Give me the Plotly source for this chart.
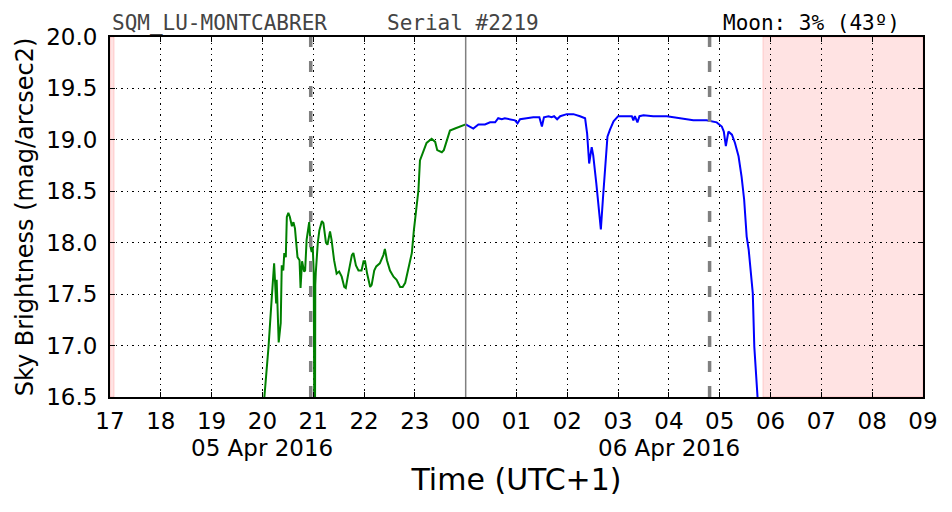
import plotly.graph_objects as go

# Time in hours since 05 Apr 2016 00:00 (UTC+1); values in mag/arcsec2
green_t = [20.03, 20.12, 20.18, 20.23, 20.27, 20.28, 20.32, 20.36, 20.38, 20.41, 20.43, 20.46,
           20.48, 20.51, 20.54, 20.58, 20.61, 20.64, 20.69, 20.73, 20.75, 20.78, 20.82, 20.84,
           20.87, 20.92, 20.95, 20.97, 20.99, 21.01, 21.02, 21.035, 21.04, 21.05, 21.09, 21.12,
           21.17, 21.20, 21.25, 21.28, 21.33, 21.36, 21.41, 21.46, 21.51, 21.56, 21.61, 21.64,
           21.69, 21.76, 21.79, 21.84, 21.89, 21.95, 21.99, 22.02, 22.06, 22.12, 22.15, 22.20,
           22.24, 22.31, 22.38, 22.41, 22.45, 22.51, 22.58, 22.64, 22.71, 22.76, 22.81, 22.87,
           22.94, 22.98, 23.04, 23.07, 23.10, 23.17, 23.23, 23.33, 23.40, 23.44, 23.53, 23.57,
           23.63, 23.69, 23.79, 23.89, 24.00]
green_v = [16.45, 16.99, 17.44, 17.80, 17.41, 17.64, 17.03, 17.22, 17.78, 17.73, 17.90, 17.86,
           18.25, 18.29, 18.25, 18.16, 18.20, 18.14, 17.86, 17.83, 17.56, 17.82, 17.72, 17.73,
           18.03, 18.20, 17.95, 17.91, 17.96, 17.70, 16.30, 16.30, 17.59, 17.71, 18.00, 18.12,
           18.21, 18.19, 18.00, 17.98, 18.11, 18.03, 17.83, 17.70, 17.72, 17.67, 17.57, 17.56,
           17.70, 17.88, 17.90, 17.78, 17.73, 17.73, 17.82, 17.82, 17.70, 17.57, 17.59, 17.73,
           17.77, 17.80, 17.88, 17.94, 17.83, 17.73, 17.67, 17.64, 17.57, 17.57, 17.61, 17.73,
           17.90, 18.12, 18.42, 18.51, 18.80, 18.90, 18.97, 19.01, 18.98, 18.90, 18.88, 18.90,
           19.00, 19.09, 19.11, 19.13, 19.15]

blue_t = [24.00, 24.09, 24.15, 24.25, 24.38, 24.48, 24.58, 24.64, 24.71, 24.77, 24.87, 24.97,
          25.02, 25.07, 25.20, 25.33, 25.45, 25.50, 25.54, 25.63, 25.69, 25.74, 25.80, 25.86,
          25.99, 26.12, 26.25, 26.35, 26.39, 26.43, 26.48, 26.51, 26.57, 26.61, 26.66, 26.70,
          26.74, 26.79, 26.84, 26.91, 27.00, 27.14, 27.27, 27.30, 27.33, 27.38, 27.42, 27.50,
          27.69, 27.96, 28.22, 28.48, 28.74, 28.94, 29.04, 29.08, 29.12, 29.17, 29.24, 29.30,
          29.37, 29.43, 29.48, 29.53, 29.57, 29.65, 29.68, 29.73, 29.75]
blue_v = [19.15, 19.13, 19.11, 19.15, 19.15, 19.17, 19.17, 19.21, 19.20, 19.21, 19.20, 19.19,
          19.16, 19.20, 19.21, 19.22, 19.22, 19.13, 19.22, 19.23, 19.22, 19.23, 19.20, 19.23,
          19.25, 19.25, 19.23, 19.21, 19.06, 18.77, 18.93, 18.85, 18.58, 18.38, 18.13, 18.42,
          18.74, 19.03, 19.10, 19.18, 19.23, 19.23, 19.23, 19.19, 19.23, 19.17, 19.23, 19.24,
          19.23, 19.23, 19.21, 19.19, 19.19, 19.17, 19.13, 19.08, 18.94, 19.08, 19.05, 18.97,
          18.84, 18.64, 18.42, 18.06, 17.93, 17.51, 16.99, 16.52, 16.45]

tick_vals = list(range(17, 34))
tick_text = ["17", "18", "19", "20", "21", "22", "23", "00", "01", "02", "03", "04",
             "05", "06", "07", "08", "09"]
date_labels = [(20, "05 Apr 2016"), (28, "06 Apr 2016")]
twilight_lines = [20.95, 28.80]
midnight = 24.0
sun_spans = [(17.0, 17.08), (29.85, 33.0)]

fig = go.Figure()
fig.add_trace(go.Scatter(x=green_t, y=green_v, mode="lines",
                         line=dict(color="#008000", width=2), hoverinfo="skip"))
fig.add_trace(go.Scatter(x=blue_t, y=blue_v, mode="lines",
                         line=dict(color="#0000ff", width=2), hoverinfo="skip"))

shapes = []
for a, b in sun_spans:
    shapes.append(dict(type="rect", xref="x", yref="paper", x0=a, x1=b, y0=0, y1=1,
                       fillcolor="rgba(255,0,0,0.11)", line=dict(color="rgba(255,0,0,0.15)", width=1),
                       layer="below"))
for t in twilight_lines:
    shapes.append(dict(type="line", xref="x", yref="paper", x0=t, x1=t, y0=0, y1=1,
                       line=dict(color="#808080", width=3.5, dash="11px,14px")))
shapes.append(dict(type="line", xref="x", yref="paper", x0=midnight, x1=midnight, y0=0, y1=1,
                   line=dict(color="#808080", width=1.5)))

annotations = []
for t, txt in date_labels:
    annotations.append(dict(x=t, y=0, xref="x", yref="paper", yshift=-51, text=txt, showarrow=False,
                            xanchor="center", yanchor="middle",
                            font=dict(family="DejaVu Sans", size=23, color="black")))
annotations += [
    dict(x=0.0, y=1.0, xref="paper", yref="paper", text="SQM_LU-MONTCABRER", showarrow=False,
         xanchor="left", yanchor="bottom", yshift=0,
         font=dict(family="DejaVu Sans Mono", size=21, color="#444444")),
    dict(x=0.338, y=1.0, xref="paper", yref="paper", text="Serial #2219", showarrow=False,
         xanchor="left", yanchor="bottom", yshift=0,
         font=dict(family="DejaVu Sans Mono", size=21, color="#444444")),
    dict(x=0.752, y=1.0, xref="paper", yref="paper", text="Moon: 3% (43º)", showarrow=False,
         xanchor="left", yanchor="bottom", yshift=0,
         font=dict(family="DejaVu Sans Mono", size=21, color="black")),
]

fig.update_layout(
    width=952, height=512,
    margin=dict(l=110, r=29, t=37, b=115),
    paper_bgcolor="white", plot_bgcolor="white",
    showlegend=False,
    shapes=shapes, annotations=annotations,
    font=dict(family="DejaVu Sans", color="black"),
    xaxis=dict(range=[17, 33], tickvals=tick_vals, ticktext=tick_text,
               tickfont=dict(size=23), showgrid=True, gridcolor="black", gridwidth=1,
               griddash="1.5px,4px", showline=True, linecolor="black", linewidth=2,
               mirror="ticks", ticks="inside", ticklen=5, tickcolor="black", zeroline=False,
               ticklabelstandoff=2,
               title=dict(text="Time (UTC+1)", font=dict(size=30), standoff=36)),
    yaxis=dict(range=[16.5, 20.0], dtick=0.5, tick0=16.5, tickformat=".1f",
               tickfont=dict(size=23), showgrid=True, gridcolor="black", gridwidth=1,
               griddash="1.5px,4px", showline=True, linecolor="black", linewidth=2,
               mirror="ticks", ticks="inside", ticklen=5, tickcolor="black", zeroline=False,
               ticklabelstandoff=6,
               title=dict(text="Sky Brightness (mag/arcsec2)", font=dict(size=24), standoff=6)),
)

fig.write_html("out.html")
